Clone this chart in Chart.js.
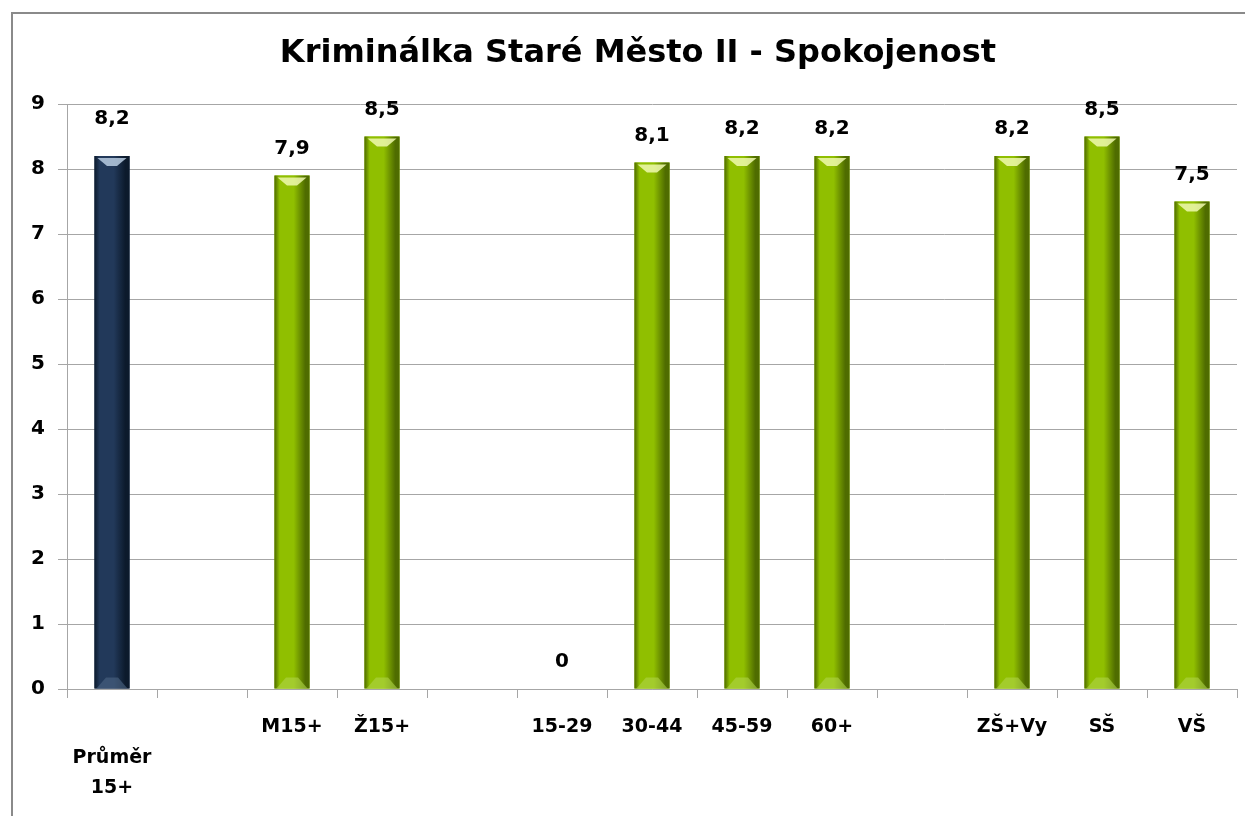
<!DOCTYPE html>
<html>
<head>
<meta charset="utf-8">
<script src="https://cdn.jsdelivr.net/npm/chart.js@4.4.1/dist/chart.umd.min.js"></script>
<style>
    html, body { margin: 0; padding: 0; background: #ffffff; }
    #wrap { width: 1245px; height: 816px; position: relative; }
</style>
</head>
<body>
<div id="wrap"><canvas id="satChart"></canvas></div>
<script>
// Data
const categories = [
    ['', 'Průměr', '15+'], '', 'M15+', 'Ž15+', '', '15-29', '30-44', '45-59', '60+', '', 'ZŠ+Vy', 'SŠ', 'VŠ'
];
const averageValues = [8.2, null, null, null, null, null, null, null, null, null, null, null, null];
const groupValues = [null, null, 7.9, 8.5, null, 0, 8.1, 8.2, 8.2, null, 8.2, 8.5, 7.5];
const yTicks = [0, 1, 2, 3, 4, 5, 6, 7, 8, 9];
const chartTitle = 'Kriminálka Staré Město II - Spokojenost';

const FONT = '"DejaVu Sans", Verdana, sans-serif';

const palette = {
    navy: { dark: '#0c1a2c', mid: '#22395a', top: '#b9cde2', bottom: '#4d6584' },
    green: { dark: '#4f6c00', mid: '#90bf00', top: '#f0f9b0', bottom: '#b0d64a' },
    grid: '#a6a6a6',
    frame: '#8a8a8a'
};

// frame + title, then the bevelled look over each bar and the value labels
const barDecor = {
    id: 'barDecor',
    beforeDraw: function(chart) {
        const c = chart.ctx;
        c.save();
        c.fillStyle = '#ffffff';
        c.fillRect(0, 0, chart.width, chart.height);
        c.strokeStyle = palette.frame;
        c.lineWidth = 2;
        c.strokeRect(12, 13, chart.width + 50, chart.height + 50);
        c.fillStyle = '#000000';
        c.font = 'bold 32px ' + FONT;
        c.textAlign = 'center';
        c.textBaseline = 'middle';
        c.fillText(chartTitle, 638, 54);
        c.restore();
    },
    afterDatasetsDraw: function(chart) {
        const c = chart.ctx;
        chart.data.datasets.forEach((ds, di) => {
            const meta = chart.getDatasetMeta(di);
            const col = palette[ds.tone];
            meta.data.forEach((el, i) => {
                const v = ds.data[i];
                if (v === null || v === undefined) return;
                const p = el.getProps(['x', 'y', 'base', 'width'], true);
                const left = p.x - p.width / 2;
                const right = p.x + p.width / 2;
                const h = p.base - p.y;
                c.save();
                if (h > 1) {
                    const g = c.createLinearGradient(left, 0, right, 0);
                    g.addColorStop(0, col.dark);
                    g.addColorStop(0.15, col.mid);
                    g.addColorStop(0.55, col.mid);
                    g.addColorStop(0.88, col.dark);
                    g.addColorStop(1, col.dark);
                    c.fillStyle = g;
                    c.fillRect(left, p.y, p.width, h);
                    // top bevel
                    c.globalAlpha = 0.85;
                    c.fillStyle = col.top;
                    c.beginPath();
                    c.moveTo(left + 3, p.y + 2);
                    c.lineTo(right - 3, p.y + 2);
                    c.lineTo(p.x + 5, p.y + 10);
                    c.lineTo(p.x - 5, p.y + 10);
                    c.closePath();
                    c.fill();
                    // bottom bevel
                    c.globalAlpha = 0.6;
                    c.fillStyle = col.bottom;
                    c.beginPath();
                    c.moveTo(left + 2, p.base);
                    c.lineTo(right - 2, p.base);
                    c.lineTo(p.x + 6, p.base - 11);
                    c.lineTo(p.x - 6, p.base - 11);
                    c.closePath();
                    c.fill();
                }
                c.globalAlpha = 1;
                c.fillStyle = '#000000';
                c.font = 'bold 20px ' + FONT;
                c.textAlign = 'center';
                c.textBaseline = 'bottom';
                c.fillText(String(v).replace('.', ','), p.x, p.y - ds.labelGap);
                c.restore();
            });
        });
    }
};

const ctx = document.getElementById('satChart').getContext('2d');
new Chart(ctx, {
    type: 'bar',
    data: {
        labels: categories,
        datasets: [
            {
                label: 'Průměr',
                data: averageValues,
                tone: 'navy',
                labelGap: 27,
                backgroundColor: palette.navy.mid,
                borderWidth: 0,
                grouped: false,
                barPercentage: 0.39,
                categoryPercentage: 1
            },
            {
                label: 'Skupiny',
                data: groupValues,
                tone: 'green',
                labelGap: 17,
                backgroundColor: palette.green.mid,
                borderWidth: 0,
                grouped: false,
                barPercentage: 0.39,
                categoryPercentage: 1
            }
        ]
    },
    options: {
        responsive: true,
        maintainAspectRatio: false,
        animation: false,
        layout: {
            padding: { top: 104, left: 0, right: 8, bottom: 0 }
        },
        plugins: {
            legend: { display: false },
            tooltip: { enabled: false },
            title: { display: false }
        },
        scales: {
            y: {
                min: 0,
                max: 9,
                afterFit: function(scale) { scale.width = 67; },
                afterBuildTicks: function(scale) {
                    scale.ticks = yTicks.map(v => ({ value: v }));
                },
                grid: {
                    color: palette.grid,
                    tickLength: 9,
                    drawTicks: true
                },
                border: { color: palette.grid },
                ticks: {
                    padding: 13,
                    color: '#000000',
                    font: { family: FONT, size: 20, weight: 'bold' }
                }
            },
            x: {
                afterFit: function(scale) { scale.height = 127; },
                grid: {
                    offset: true,
                    drawOnChartArea: false,
                    tickLength: 9,
                    color: palette.grid
                },
                border: { color: palette.grid },
                ticks: {
                    autoSkip: false,
                    maxRotation: 0,
                    padding: 14,
                    color: '#000000',
                    font: { family: FONT, size: 19, weight: 'bold', lineHeight: 1.6 }
                }
            }
        }
    },
    plugins: [barDecor]
});
</script>
</body>
</html>
